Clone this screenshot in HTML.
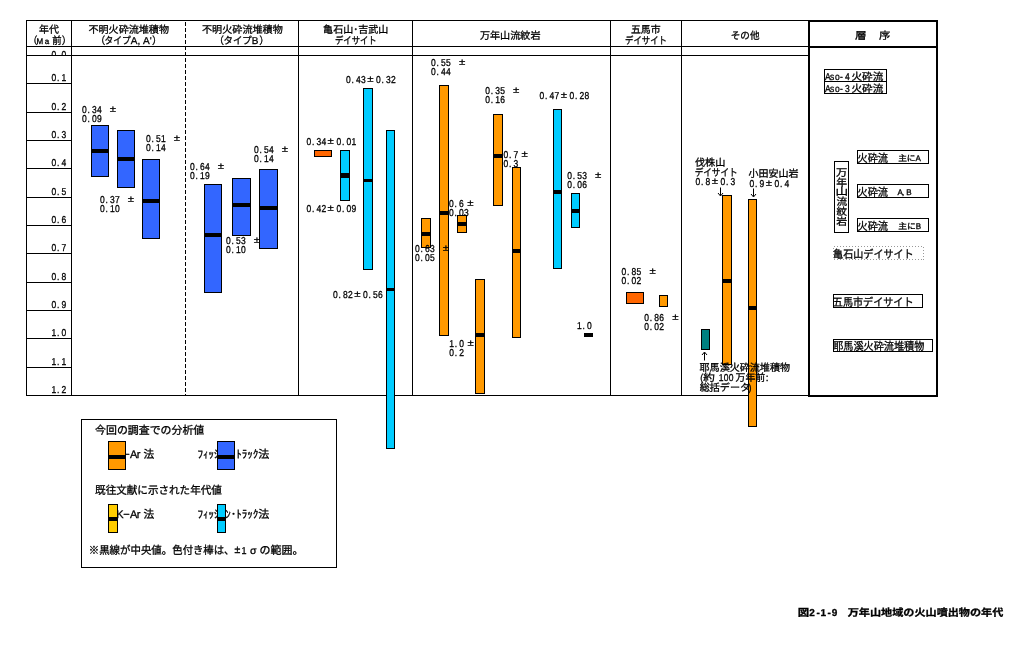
<!DOCTYPE html>
<html lang="ja">
<head>
<meta charset="utf-8">
<title>図2-1-9 万年山地域の火山噴出物の年代</title>
<style>
html,body{margin:0;padding:0;background:#fff;}
body{width:1031px;height:652px;overflow:hidden;font-family:"Liberation Sans","Noto Sans CJK JP",sans-serif;}
svg{display:block;will-change:transform;}
svg text{font-family:"Liberation Sans","Noto Sans CJK JP",sans-serif;fill:#000;stroke:#000;stroke-width:0.3px;text-rendering:geometricPrecision;}
#frame rect,#col1 rect,#col2 rect,#col3 rect,#col4 rect,#col5 rect,#col6 rect,#strat rect,#legend rect{shape-rendering:crispEdges;}
</style>
</head>
<body>
<svg width="1031" height="652" viewBox="0 0 1031 652">
<rect x="0" y="0" width="1031" height="652" fill="#fff"/>
<g id="frame">
<rect x="26" y="20" width="783" height="1" fill="#000"/>
<rect x="26" y="46" width="783" height="1" fill="#000"/>
<rect x="26" y="55" width="783" height="1" fill="#000"/>
<rect x="26" y="395" width="783" height="1" fill="#000"/>
<rect x="26" y="20" width="1" height="376" fill="#000"/>
<rect x="71" y="20" width="1" height="376" fill="#000"/>
<rect x="298" y="20" width="1" height="376" fill="#000"/>
<rect x="412" y="20" width="1" height="376" fill="#000"/>
<rect x="610" y="20" width="1" height="376" fill="#000"/>
<rect x="681" y="20" width="1" height="376" fill="#000"/>
<line x1="185.5" y1="22" x2="185.5" y2="395" stroke="#000" stroke-width="1" stroke-dasharray="4 2"/>
<rect x="26" y="83" width="46" height="1" fill="#000"/>
<rect x="26" y="112" width="46" height="1" fill="#000"/>
<rect x="26" y="140" width="46" height="1" fill="#000"/>
<rect x="26" y="168" width="46" height="1" fill="#000"/>
<rect x="26" y="197" width="46" height="1" fill="#000"/>
<rect x="26" y="225" width="46" height="1" fill="#000"/>
<rect x="26" y="253" width="46" height="1" fill="#000"/>
<rect x="26" y="282" width="46" height="1" fill="#000"/>
<rect x="26" y="310" width="46" height="1" fill="#000"/>
<rect x="26" y="338" width="46" height="1" fill="#000"/>
<rect x="26" y="367" width="46" height="1" fill="#000"/>
<rect x="808" y="20" width="130" height="2" fill="#000"/>
<rect x="808" y="46" width="130" height="2" fill="#000"/>
<rect x="808" y="395" width="130" height="2" fill="#000"/>
<rect x="808" y="20" width="2" height="377" fill="#000"/>
<rect x="936" y="20" width="2" height="377" fill="#000"/>
</g>
<g id="yaxis">
<clipPath id="c00"><rect x="27" y="47" width="44" height="8"/></clipPath>
<g clip-path="url(#c00)"><text transform="translate(51.00,58.20) scale(0.850,1)" x="0.47 6.94 12.24" font-size="10.00">0.0</text></g>
<text transform="translate(51.00,81.00) scale(0.850,1)" x="0.47 6.94 12.24" font-size="10.00">0.1</text>
<text transform="translate(51.00,110.00) scale(0.850,1)" x="0.47 6.94 12.24" font-size="10.00">0.2</text>
<text transform="translate(51.00,138.00) scale(0.850,1)" x="0.47 6.94 12.24" font-size="10.00">0.3</text>
<text transform="translate(51.00,166.00) scale(0.850,1)" x="0.47 6.94 12.24" font-size="10.00">0.4</text>
<text transform="translate(51.00,195.00) scale(0.850,1)" x="0.47 6.94 12.24" font-size="10.00">0.5</text>
<text transform="translate(51.00,223.00) scale(0.850,1)" x="0.47 6.94 12.24" font-size="10.00">0.6</text>
<text transform="translate(51.00,251.00) scale(0.850,1)" x="0.47 6.94 12.24" font-size="10.00">0.7</text>
<text transform="translate(51.00,280.00) scale(0.850,1)" x="0.47 6.94 12.24" font-size="10.00">0.8</text>
<text transform="translate(51.00,308.00) scale(0.850,1)" x="0.47 6.94 12.24" font-size="10.00">0.9</text>
<text transform="translate(51.00,336.00) scale(0.850,1)" x="0.47 6.94 12.24" font-size="10.00">1.0</text>
<text transform="translate(51.00,365.00) scale(0.850,1)" x="0.47 6.94 12.24" font-size="10.00">1.1</text>
<text transform="translate(51.00,393.00) scale(0.850,1)" x="0.47 6.94 12.24" font-size="10.00">1.2</text>
</g>
<g id="header">
<g><title>年代</title><text x="39.11" y="32.80" font-size="10" textLength="19.8" lengthAdjust="spacingAndGlyphs">年代</text></g>
<g><title>（Ma 前）</title><text x="27.5" y="44.40" font-size="10">（</text><text x="36.39 44.74" y="44.40" font-size="8.00">Ma</text><text x="52.36" y="44.40" font-size="10" textLength="9.3" lengthAdjust="spacingAndGlyphs">前</text><text x="61.64" y="44.40" font-size="10">）</text></g>
<g><title>不明火砕流堆積物</title><text x="88.41" y="32.80" font-size="10" textLength="80.6" lengthAdjust="spacingAndGlyphs">不明火砕流堆積物</text></g>
<g><title>（タイプA, A'）</title><text x="95.3" y="44.40" font-size="10">（</text><text x="104.43" y="44.40" font-size="10" textLength="26.3" lengthAdjust="spacingAndGlyphs">タイプ</text><text x="130.73 137.46 143.10 149.83" y="44.40" font-size="10.00">A,A'</text><text x="151.89" y="44.40" font-size="10">）</text></g>
<g><title>不明火砕流堆積物</title><text x="202.01" y="32.80" font-size="10" textLength="80.8" lengthAdjust="spacingAndGlyphs">不明火砕流堆積物</text></g>
<g><title>（タイプB）</title><text x="214.1" y="44.40" font-size="10">（</text><text x="223.51" y="44.40" font-size="10" textLength="28.3" lengthAdjust="spacingAndGlyphs">タイプ</text><text x="251.87" y="44.40" font-size="10.00">B</text><text x="259.37" y="44.40" font-size="10">）</text></g>
<g><title>亀石山･吉武山</title><text x="323.14" y="32.80" font-size="10" textLength="65.1" lengthAdjust="spacingAndGlyphs">亀石山･吉武山</text></g>
<g><title>デイサイト</title><text x="335.02" y="44.40" font-size="10" textLength="41.6" lengthAdjust="spacingAndGlyphs">デイサイト</text></g>
<g><title>万年山流紋岩</title><text x="479.90" y="39.00" font-size="10" textLength="60.6" lengthAdjust="spacingAndGlyphs">万年山流紋岩</text></g>
<g><title>五馬市</title><text x="630.91" y="32.80" font-size="10" textLength="29.6" lengthAdjust="spacingAndGlyphs">五馬市</text></g>
<g><title>デイサイト</title><text x="625.12" y="44.40" font-size="10" textLength="41.7" lengthAdjust="spacingAndGlyphs">デイサイト</text></g>
<g><title>その他</title><text x="730.71" y="39.00" font-size="10" textLength="28.9" lengthAdjust="spacingAndGlyphs">その他</text></g>
<g><title>層</title><text x="855.03" y="39.00" font-size="10" textLength="11.6" lengthAdjust="spacingAndGlyphs">層</text></g>
<g><title>序</title><text x="879.13" y="39.00" font-size="10" textLength="11.3" lengthAdjust="spacingAndGlyphs">序</text></g>
</g>
<g id="col1">
<text transform="translate(81.50,113.00) scale(0.850,1)" x="0.47 6.94 12.24 18.12" font-size="10.00">0.34</text><text transform="translate(109.80,112.10) scale(1.0,0.8)" font-size="11.5" stroke-width="0.5">±</text>
<text transform="translate(81.50,122.00) scale(0.850,1)" x="0.47 6.94 12.24 18.12" font-size="10.00">0.09</text>
<rect x="91" y="125" width="18" height="52" fill="#000"/><rect x="92" y="126" width="16" height="50" fill="#3366FF"/><rect x="91" y="149" width="18" height="4" fill="#000"/>
<rect x="117" y="130" width="18" height="58" fill="#000"/><rect x="118" y="131" width="16" height="56" fill="#3366FF"/><rect x="117" y="157" width="18" height="4" fill="#000"/>
<text transform="translate(145.50,142.00) scale(0.850,1)" x="0.47 6.94 12.24 18.12" font-size="10.00">0.51</text><text transform="translate(173.80,141.10) scale(1.0,0.8)" font-size="11.5" stroke-width="0.5">±</text>
<text transform="translate(145.50,151.00) scale(0.850,1)" x="0.47 6.94 12.24 18.12" font-size="10.00">0.14</text>
<rect x="142" y="159" width="18" height="80" fill="#000"/><rect x="143" y="160" width="16" height="78" fill="#3366FF"/><rect x="142" y="199" width="18" height="4" fill="#000"/>
<text transform="translate(99.50,203.00) scale(0.850,1)" x="0.47 6.94 12.24 18.12" font-size="10.00">0.37</text><text transform="translate(127.80,202.10) scale(1.0,0.8)" font-size="11.5" stroke-width="0.5">±</text>
<text transform="translate(99.50,212.00) scale(0.850,1)" x="0.47 6.94 12.24 18.12" font-size="10.00">0.10</text>
</g>
<g id="col2">
<text transform="translate(189.50,170.00) scale(0.850,1)" x="0.47 6.94 12.24 18.12" font-size="10.00">0.64</text><text transform="translate(217.80,169.10) scale(1.0,0.8)" font-size="11.5" stroke-width="0.5">±</text>
<text transform="translate(189.50,179.00) scale(0.850,1)" x="0.47 6.94 12.24 18.12" font-size="10.00">0.19</text>
<rect x="204" y="184" width="18" height="109" fill="#000"/><rect x="205" y="185" width="16" height="107" fill="#3366FF"/><rect x="204" y="233" width="18" height="4" fill="#000"/>
<text transform="translate(225.50,244.00) scale(0.850,1)" x="0.47 6.94 12.24 18.12" font-size="10.00">0.53</text><text transform="translate(253.80,243.10) scale(1.0,0.8)" font-size="11.5" stroke-width="0.5">±</text>
<text transform="translate(225.50,253.00) scale(0.850,1)" x="0.47 6.94 12.24 18.12" font-size="10.00">0.10</text>
<rect x="232" y="178" width="19" height="58" fill="#000"/><rect x="233" y="179" width="17" height="56" fill="#3366FF"/><rect x="232" y="203" width="19" height="4" fill="#000"/>
<text transform="translate(253.50,153.00) scale(0.850,1)" x="0.47 6.94 12.24 18.12" font-size="10.00">0.54</text><text transform="translate(281.80,152.10) scale(1.0,0.8)" font-size="11.5" stroke-width="0.5">±</text>
<text transform="translate(253.50,162.00) scale(0.850,1)" x="0.47 6.94 12.24 18.12" font-size="10.00">0.14</text>
<rect x="259" y="169" width="19" height="80" fill="#000"/><rect x="260" y="170" width="17" height="78" fill="#3366FF"/><rect x="259" y="206" width="19" height="4" fill="#000"/>
</g>
<g id="col3">
<text transform="translate(345.70,82.50) scale(0.850,1)" x="0.47 6.94 12.24 18.12 35.76 42.24 47.53 53.41" font-size="10.00">0.430.32</text><text transform="translate(367.30,81.60) scale(1.0,0.8)" font-size="11.5" stroke-width="0.5">±</text>
<text transform="translate(306.00,145.00) scale(0.850,1)" x="0.47 6.94 12.24 18.12 35.76 42.24 47.53 53.41" font-size="10.00">0.340.01</text><text transform="translate(327.60,144.10) scale(1.0,0.8)" font-size="11.5" stroke-width="0.5">±</text>
<text transform="translate(306.00,212.00) scale(0.850,1)" x="0.47 6.94 12.24 18.12 35.76 42.24 47.53 53.41" font-size="10.00">0.420.09</text><text transform="translate(327.60,211.10) scale(1.0,0.8)" font-size="11.5" stroke-width="0.5">±</text>
<rect x="314" y="150" width="18" height="7" fill="#000"/><rect x="315" y="151" width="16" height="5" fill="#FF6600"/>
<rect x="340" y="150" width="10" height="51" fill="#000"/><rect x="341" y="151" width="8" height="49" fill="#00CCFF"/><rect x="340" y="173" width="10" height="5" fill="#000"/>
<rect x="363" y="88" width="10" height="182" fill="#000"/><rect x="364" y="89" width="8" height="180" fill="#00CCFF"/><rect x="363" y="179" width="10" height="3" fill="#000"/>
<text transform="translate(332.70,298.00) scale(0.850,1)" x="0.47 6.94 12.24 18.12 35.76 42.24 47.53 53.41" font-size="10.00">0.820.56</text><text transform="translate(354.30,297.10) scale(1.0,0.8)" font-size="11.5" stroke-width="0.5">±</text>
<rect x="386" y="130" width="9" height="319" fill="#000"/><rect x="387" y="131" width="7" height="317" fill="#00CCFF"/><rect x="386" y="288" width="9" height="3" fill="#000"/>
</g>
<g id="col4">
<text transform="translate(430.70,66.00) scale(0.850,1)" x="0.47 6.94 12.24 18.12" font-size="10.00">0.55</text><text transform="translate(459.00,65.10) scale(1.0,0.8)" font-size="11.5" stroke-width="0.5">±</text>
<text transform="translate(430.70,75.00) scale(0.850,1)" x="0.47 6.94 12.24 18.12" font-size="10.00">0.44</text>
<rect x="421" y="218" width="10" height="30" fill="#000"/><rect x="422" y="219" width="8" height="28" fill="#FF9900"/><rect x="421" y="232" width="10" height="4" fill="#000"/>
<rect x="439" y="85" width="10" height="251" fill="#000"/><rect x="440" y="86" width="8" height="249" fill="#FF9900"/><rect x="439" y="211" width="10" height="4" fill="#000"/>
<text transform="translate(414.50,252.00) scale(0.850,1)" x="0.47 6.94 12.24 18.12" font-size="10.00">0.63</text><text transform="translate(442.80,251.10) scale(1.0,0.8)" font-size="11.5" stroke-width="0.5">±</text>
<text transform="translate(414.50,261.00) scale(0.850,1)" x="0.47 6.94 12.24 18.12" font-size="10.00">0.05</text>
<text transform="translate(448.60,207.00) scale(0.850,1)" x="0.47 6.94 12.24" font-size="10.00">0.6</text><text transform="translate(467.20,206.10) scale(1.0,0.8)" font-size="11.5" stroke-width="0.5">±</text>
<text transform="translate(448.60,216.00) scale(0.850,1)" x="0.47 6.94 12.24 18.12" font-size="10.00">0.03</text>
<rect x="457" y="215" width="10" height="18" fill="#000"/><rect x="458" y="216" width="8" height="16" fill="#FF9900"/><rect x="457" y="222" width="10" height="4" fill="#000"/>
<text transform="translate(448.90,347.00) scale(0.850,1)" x="0.47 6.94 12.24" font-size="10.00">1.0</text><text transform="translate(467.50,346.10) scale(1.0,0.8)" font-size="11.5" stroke-width="0.5">±</text>
<text transform="translate(448.90,356.00) scale(0.850,1)" x="0.47 6.94 12.24" font-size="10.00">0.2</text>
<rect x="475" y="279" width="10" height="115" fill="#000"/><rect x="476" y="280" width="8" height="113" fill="#FF9900"/><rect x="475" y="333" width="10" height="4" fill="#000"/>
<text transform="translate(484.80,94.00) scale(0.850,1)" x="0.47 6.94 12.24 18.12" font-size="10.00">0.35</text><text transform="translate(513.10,93.10) scale(1.0,0.8)" font-size="11.5" stroke-width="0.5">±</text>
<text transform="translate(484.80,103.00) scale(0.850,1)" x="0.47 6.94 12.24 18.12" font-size="10.00">0.16</text>
<rect x="493" y="114" width="10" height="92" fill="#000"/><rect x="494" y="115" width="8" height="90" fill="#FF9900"/><rect x="493" y="154" width="10" height="4" fill="#000"/>
<text transform="translate(503.00,158.00) scale(0.850,1)" x="0.47 6.94 12.24" font-size="10.00">0.7</text><text transform="translate(521.60,157.10) scale(1.0,0.8)" font-size="11.5" stroke-width="0.5">±</text>
<text transform="translate(503.00,167.00) scale(0.850,1)" x="0.47 6.94 12.24" font-size="10.00">0.3</text>
<rect x="512" y="167" width="9" height="171" fill="#000"/><rect x="513" y="168" width="7" height="169" fill="#FF9900"/><rect x="512" y="249" width="9" height="4" fill="#000"/>
<text transform="translate(539.20,99.00) scale(0.850,1)" x="0.47 6.94 12.24 18.12 35.76 42.24 47.53 53.41" font-size="10.00">0.470.28</text><text transform="translate(560.80,98.10) scale(1.0,0.8)" font-size="11.5" stroke-width="0.5">±</text>
<rect x="553" y="109" width="9" height="160" fill="#000"/><rect x="554" y="110" width="7" height="158" fill="#00CCFF"/><rect x="553" y="190" width="9" height="4" fill="#000"/>
<text transform="translate(566.80,179.00) scale(0.850,1)" x="0.47 6.94 12.24 18.12" font-size="10.00">0.53</text><text transform="translate(595.10,178.10) scale(1.0,0.8)" font-size="11.5" stroke-width="0.5">±</text>
<text transform="translate(566.80,188.00) scale(0.850,1)" x="0.47 6.94 12.24 18.12" font-size="10.00">0.06</text>
<rect x="571" y="193" width="9" height="35" fill="#000"/><rect x="572" y="194" width="7" height="33" fill="#00CCFF"/><rect x="571" y="209" width="9" height="4" fill="#000"/>
<text transform="translate(576.50,329.00) scale(0.850,1)" x="0.47 6.94 12.24" font-size="10.00">1.0</text>
<rect x="584" y="333" width="9" height="4" fill="#000"/>
</g>
<g id="col5">
<text transform="translate(621.20,275.00) scale(0.850,1)" x="0.47 6.94 12.24 18.12" font-size="10.00">0.85</text><text transform="translate(649.50,274.10) scale(1.0,0.8)" font-size="11.5" stroke-width="0.5">±</text>
<text transform="translate(621.20,284.00) scale(0.850,1)" x="0.47 6.94 12.24 18.12" font-size="10.00">0.02</text>
<rect x="626" y="292" width="18" height="12" fill="#000"/><rect x="627" y="293" width="16" height="10" fill="#FF6600"/>
<rect x="659" y="295" width="9" height="12" fill="#000"/><rect x="660" y="296" width="7" height="10" fill="#FF9900"/>
<text transform="translate(643.90,321.00) scale(0.850,1)" x="0.47 6.94 12.24 18.12" font-size="10.00">0.86</text><text transform="translate(672.20,320.10) scale(1.0,0.8)" font-size="11.5" stroke-width="0.5">±</text>
<text transform="translate(643.90,330.00) scale(0.850,1)" x="0.47 6.94 12.24 18.12" font-size="10.00">0.02</text>
</g>
<g id="col6">
<g><title>伐株山</title><text x="694.95" y="166.00" font-size="10" textLength="30.4" lengthAdjust="spacingAndGlyphs">伐株山</text></g>
<g><title>デイサイト</title><text x="694.71" y="176.00" font-size="10" textLength="42.9" lengthAdjust="spacingAndGlyphs">デイサイト</text></g>
<text transform="translate(695.20,185.00) scale(0.850,1)" x="0.47 6.94 12.24 29.88 36.35 41.65" font-size="10.00">0.80.3</text><text transform="translate(711.80,184.10) scale(1.0,0.8)" font-size="11.5" stroke-width="0.5">±</text>
<path d="M720.5 187.5V195.5M718 193L720.5 196L723 193" fill="none" stroke="#000" stroke-width="1"/>
<rect x="722" y="195" width="10" height="170" fill="#000"/><rect x="723" y="196" width="8" height="168" fill="#FF9900"/><rect x="722" y="279" width="10" height="4" fill="#000"/>
<g><title>小田安山岩</title><text x="748.52" y="177.00" font-size="10" textLength="50.1" lengthAdjust="spacingAndGlyphs">小田安山岩</text></g>
<text transform="translate(749.20,186.50) scale(0.850,1)" x="0.47 6.94 12.24 29.88 36.35 41.65" font-size="10.00">0.90.4</text><text transform="translate(765.80,185.60) scale(1.0,0.8)" font-size="11.5" stroke-width="0.5">±</text>
<path d="M753.5 188.5V196.5M751 194L753.5 197L756 194" fill="none" stroke="#000" stroke-width="1"/>
<rect x="701" y="329" width="9" height="21" fill="#000"/><rect x="702" y="330" width="7" height="19" fill="#008080"/>
<path d="M704.5 360.5V352.5M702 355L704.5 352L707 355" fill="none" stroke="#000" stroke-width="1"/>
<rect x="748" y="199" width="9" height="228" fill="#000"/><rect x="749" y="200" width="7" height="226" fill="#FF9900"/><rect x="748" y="306" width="9" height="4" fill="#000"/>
<g><title>耶馬溪火砕流堆積物</title><text x="699.53" y="371.00" font-size="10" textLength="90.5" lengthAdjust="spacingAndGlyphs">耶馬溪火砕流堆積物</text></g>
<g><title>（約 100 万年前:</title><text transform="translate(700.30,380.50) scale(0.900,1)" font-size="10.00">(</text><text x="703.27" y="381.00" font-size="10" textLength="11.6" lengthAdjust="spacingAndGlyphs">約</text><text transform="translate(718.30,381.00) scale(0.850,1)" x="0.47 6.35 12.24" font-size="10.00">100</text><text x="735.62" y="381.00" font-size="10" textLength="29.6" lengthAdjust="spacingAndGlyphs">万年前</text><text transform="translate(765.80,380.50) scale(1.000,1)" font-size="10.00">:</text></g>
<g><title>総括データ）</title><text x="699.65" y="391.00" font-size="10" textLength="50.5" lengthAdjust="spacingAndGlyphs">総括データ</text><text transform="translate(748.60,390.50) scale(0.900,1)" font-size="10.00">)</text></g>
</g>
<g id="strat">
<rect x="824" y="69" width="63" height="1" fill="#000"/><rect x="824" y="81" width="63" height="1" fill="#000"/><rect x="824" y="69" width="1" height="13" fill="#000"/><rect x="886" y="69" width="1" height="13" fill="#000"/>
<rect x="824" y="81" width="63" height="1" fill="#000"/><rect x="824" y="93" width="63" height="1" fill="#000"/><rect x="824" y="81" width="1" height="13" fill="#000"/><rect x="886" y="81" width="1" height="13" fill="#000"/>
<g><title>Aso-4 火砕流</title><text transform="translate(825.00,80.00) scale(0.850,1)" x="0.00 5.88 11.76 17.65 23.53" font-size="10.00">Aso-4</text><text x="851.51" y="80.00" font-size="10" textLength="31.7" lengthAdjust="spacingAndGlyphs">火砕流</text></g>
<g><title>Aso-3 火砕流</title><text transform="translate(825.00,92.00) scale(0.850,1)" x="0.00 5.88 11.76 17.65 23.53" font-size="10.00">Aso-3</text><text x="851.51" y="92.00" font-size="10" textLength="31.7" lengthAdjust="spacingAndGlyphs">火砕流</text></g>
<rect x="834" y="161" width="15" height="1" fill="#000"/><rect x="834" y="232" width="15" height="1" fill="#000"/><rect x="834" y="161" width="1" height="72" fill="#000"/><rect x="848" y="161" width="1" height="72" fill="#000"/>
<text x="836.11" y="175.80" font-size="10" textLength="11.3" lengthAdjust="spacingAndGlyphs">万</text>
<text x="836.25" y="185.60" font-size="10" textLength="10.8" lengthAdjust="spacingAndGlyphs">年</text>
<text x="835.48" y="195.40" font-size="10" textLength="12.6" lengthAdjust="spacingAndGlyphs">山</text>
<text x="836.42" y="205.20" font-size="10" textLength="10.6" lengthAdjust="spacingAndGlyphs">流</text>
<text x="836.48" y="215.00" font-size="10" textLength="10.5" lengthAdjust="spacingAndGlyphs">紋</text>
<text x="836.37" y="224.80" font-size="10" textLength="10.9" lengthAdjust="spacingAndGlyphs">岩</text>
<rect x="857" y="150" width="72" height="1" fill="#000"/><rect x="857" y="163" width="72" height="1" fill="#000"/><rect x="857" y="150" width="1" height="14" fill="#000"/><rect x="928" y="150" width="1" height="14" fill="#000"/>
<rect x="857" y="184" width="72" height="1" fill="#000"/><rect x="857" y="197" width="72" height="1" fill="#000"/><rect x="857" y="184" width="1" height="14" fill="#000"/><rect x="928" y="184" width="1" height="14" fill="#000"/>
<rect x="857" y="218" width="72" height="1" fill="#000"/><rect x="857" y="231" width="72" height="1" fill="#000"/><rect x="857" y="218" width="1" height="14" fill="#000"/><rect x="928" y="218" width="1" height="14" fill="#000"/>
<g><title>火砕流</title><text x="857.55" y="161.50" font-size="11" textLength="30.4" lengthAdjust="spacingAndGlyphs">火砕流</text></g>
<g><title>主にA</title><text x="898.15" y="161.30" font-size="8" textLength="17.4" lengthAdjust="spacingAndGlyphs">主に</text><text x="915.54" y="161.30" font-size="8.00">A</text></g>
<g><title>火砕流</title><text x="857.55" y="195.50" font-size="11" textLength="30.4" lengthAdjust="spacingAndGlyphs">火砕流</text></g>
<g><title>A,B</title><text x="897.62 901.88 906.14" y="195.30" font-size="8.00">A,B</text></g>
<g><title>火砕流</title><text x="857.55" y="229.50" font-size="11" textLength="30.4" lengthAdjust="spacingAndGlyphs">火砕流</text></g>
<g><title>主にB</title><text x="898.15" y="229.30" font-size="8" textLength="17.6" lengthAdjust="spacingAndGlyphs">主に</text><text x="915.72" y="229.30" font-size="8.00">B</text></g>
<rect x="833.5" y="246.5" width="90" height="13" fill="none" stroke="#999" stroke-width="1" stroke-dasharray="1 2"/>
<g><title>亀石山デイサイト</title><text x="833.09" y="257.50" font-size="11" textLength="80.6" lengthAdjust="spacingAndGlyphs">亀石山デイサイト</text></g>
<rect x="833" y="294" width="90" height="1" fill="#000"/><rect x="833" y="307" width="90" height="1" fill="#000"/><rect x="833" y="294" width="1" height="14" fill="#000"/><rect x="922" y="294" width="1" height="14" fill="#000"/>
<g><title>五馬市デイサイト</title><text x="832.81" y="305.50" font-size="11" textLength="80.7" lengthAdjust="spacingAndGlyphs">五馬市デイサイト</text></g>
<rect x="833" y="339" width="100" height="1" fill="#000"/><rect x="833" y="351" width="100" height="1" fill="#000"/><rect x="833" y="339" width="1" height="13" fill="#000"/><rect x="932" y="339" width="1" height="13" fill="#000"/>
<g><title>耶馬溪火砕流堆積物</title><text x="833.22" y="350.00" font-size="11" textLength="91.1" lengthAdjust="spacingAndGlyphs">耶馬溪火砕流堆積物</text></g>
</g>
<g id="legend">
<rect x="81" y="419" width="256" height="1" fill="#000"/><rect x="81" y="567" width="256" height="1" fill="#000"/><rect x="81" y="419" width="1" height="149" fill="#000"/><rect x="336" y="419" width="1" height="149" fill="#000"/>
<g><title>今回の調査での分析値</title><text x="95.11" y="434.30" font-size="11" textLength="109.1" lengthAdjust="spacingAndGlyphs">今回の調査での分析値</text></g>
<g><title>K−Ar 法</title><text x="123.19" y="458.00" font-size="11">−</text><text x="143.58" y="458.00" font-size="11" textLength="10.7" lengthAdjust="spacingAndGlyphs">法</text><text x="116.28 129.91 136.72" y="458.00" font-size="11.00">KAr</text></g>
<rect x="108" y="441" width="18" height="29" fill="#000"/><rect x="109" y="442" width="16" height="27" fill="#FF9900"/><rect x="108" y="455" width="18" height="4" fill="#000"/>
<g><title>ﾌｨｯｼｮﾝ･ﾄﾗｯｸ法</title><text x="197.49" y="458.00" font-size="11" textLength="71.9" lengthAdjust="spacingAndGlyphs">ﾌｨｯｼｮﾝ･ﾄﾗｯｸ法</text></g>
<rect x="217" y="441" width="18" height="29" fill="#000"/><rect x="218" y="442" width="16" height="27" fill="#3366FF"/><rect x="217" y="455" width="18" height="4" fill="#000"/>
<g><title>既往文献に示された年代値</title><text x="95.12" y="493.50" font-size="11" textLength="126.7" lengthAdjust="spacingAndGlyphs">既往文献に示された年代値</text></g>
<rect x="108" y="504" width="10" height="29" fill="#000"/><rect x="109" y="505" width="8" height="27" fill="#FFCC00"/><rect x="108" y="517" width="10" height="4" fill="#000"/>
<g><title>K−Ar 法</title><text x="123.19" y="518.00" font-size="11">−</text><text x="143.58" y="518.00" font-size="11" textLength="10.7" lengthAdjust="spacingAndGlyphs">法</text><text x="116.28 129.91 136.72" y="518.00" font-size="11.00">KAr</text></g>
<g><title>ﾌｨｯｼｮﾝ･ﾄﾗｯｸ法</title><text x="197.49" y="518.00" font-size="11" textLength="71.9" lengthAdjust="spacingAndGlyphs">ﾌｨｯｼｮﾝ･ﾄﾗｯｸ法</text></g>
<rect x="217" y="504" width="9" height="29" fill="#000"/><rect x="218" y="505" width="7" height="27" fill="#00CCFF"/><rect x="217" y="517" width="9" height="4" fill="#000"/>
<g><title>※黒線が中央値。色付き棒は、±1σの範囲。</title><text x="88.73" y="553.70" font-size="11" textLength="83.5" lengthAdjust="spacingAndGlyphs">※黒線が中央値。</text><text x="172.31" y="553.70" font-size="11" textLength="62" lengthAdjust="spacingAndGlyphs">色付き棒は、</text><text transform="translate(234.60,553.20) scale(1.000,1)" font-size="10.50">±</text><text transform="translate(241.40,553.70) scale(0.900,1)" font-size="10.00">1</text><text transform="translate(250.00,553.70) scale(1.000,1)" font-size="10.50">σ</text><text x="259.54" y="553.70" font-size="11" textLength="44" lengthAdjust="spacingAndGlyphs">の範囲。</text></g>
</g>
<g id="caption">
<g><title>図2-1-9</title><text x="797.89" y="615.50" font-size="10" font-weight="bold" textLength="11.4" lengthAdjust="spacingAndGlyphs">図</text><text x="809.24 816.40 820.46 827.62 831.68" y="615.50" font-size="10.00" font-weight="bold">2-1-9</text></g>
<g><title>万年山地域の火山噴出物の年代</title><text x="847.72" y="615.50" font-size="10" font-weight="bold" textLength="155.6" lengthAdjust="spacingAndGlyphs">万年山地域の火山噴出物の年代</text></g>
</g>
</svg>
</body>
</html>
